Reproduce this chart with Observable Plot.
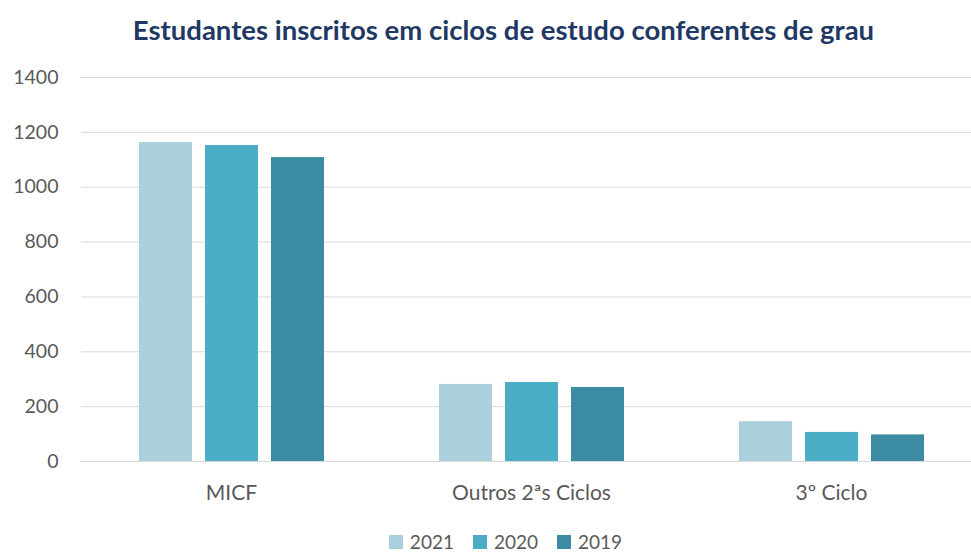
<!DOCTYPE html>
<html><head><meta charset="utf-8">
<script src="https://cdn.jsdelivr.net/npm/d3@7"></script>
<script src="https://cdn.jsdelivr.net/npm/@observablehq/plot@0.6"></script>
<style>
body{margin:0;background:#fff;font-family:Lato,"Open Sans",sans-serif;width:971px;height:554px;position:relative;overflow:hidden;}
#title{position:absolute;top:0;left:18px;width:971px;height:60px;line-height:60px;text-align:center;font-weight:bold;font-size:27.5px;color:#1F3864;white-space:nowrap;}
#chart{position:absolute;top:60px;left:0;}
#legend{position:absolute;top:532px;left:20px;width:971px;height:20px;line-height:20px;display:flex;justify-content:center;align-items:center;font-size:19px;color:#595959;}
#legend .item{display:flex;align-items:center;margin:0 9.5px;}
#legend .sw{width:14px;height:14px;margin-right:7px;}
</style></head><body>
<div id="title">Estudantes inscritos em ciclos de estudo conferentes de grau</div>
<div id="chart"></div>
<div id="legend"></div>
<script>
const categories = ["MICF", "Outros 2ªs Ciclos", "3º Ciclo"];
const years = ["2021", "2020", "2019"];
const values2021 = [1163, 281, 145];
const values2020 = [1152, 288, 106];
const values2019 = [1108, 270, 97];
const yTicks = [0, 200, 400, 600, 800, 1000, 1200, 1400];
const colors = ["#AACFDD", "#4BADC6", "#3B8CA2"];

const series = [values2021, values2020, values2019];
const data = [];
categories.forEach((c, i) => {
  years.forEach((y, j) => data.push({category: c, year: y, value: series[j][i]}));
});

const chart = Plot.plot({
  width: 971,
  height: 460,
  marginTop: 17,
  marginBottom: 59,
  marginLeft: 81,
  marginRight: -10,
  style: {fontFamily: "Lato, 'Open Sans', sans-serif", color: "#595959", background: "transparent"},
  fx: {domain: categories, padding: 0, label: null},
  x: {domain: years, paddingInner: 0.2, paddingOuter: 0.86, axis: null},
  y: {domain: [0, 1400], label: null},
  color: {domain: years, range: colors},
  marks: [
    Plot.ruleY(yTicks, {stroke: "#D9D9D9", strokeWidth: 1}),
    Plot.barY(data, {fx: "category", x: "year", y: "value", fill: "year"}),
    Plot.axisY(yTicks, {tickSize: 0, tickPadding: 23, fontSize: 19.5, fill: "#595959", label: null, tickFormat: d => String(d)}),
    Plot.axisFx({anchor: "bottom", tickSize: 0, tickPadding: 24, fontSize: 21, fill: "#595959", label: null})
  ]
});
document.getElementById("chart").appendChild(chart);

const legend = document.getElementById("legend");
years.forEach((y, i) => {
  const item = document.createElement("div");
  item.className = "item";
  const sw = document.createElement("div");
  sw.className = "sw";
  sw.style.background = colors[i];
  const t = document.createElement("span");
  t.textContent = y;
  item.appendChild(sw);
  item.appendChild(t);
  legend.appendChild(item);
});
</script>
</body></html>
